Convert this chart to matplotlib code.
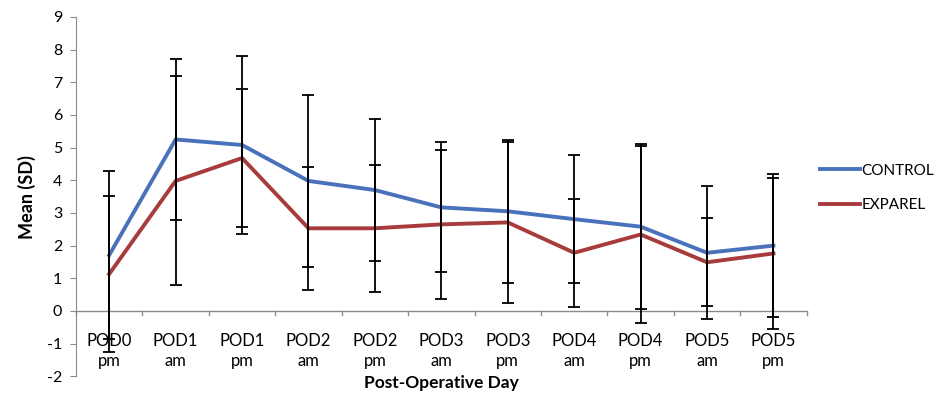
import matplotlib
matplotlib.use('Agg')
import matplotlib.pyplot as plt
import numpy as np

plt.rcParams['font.family'] = ['Lato', 'DejaVu Sans']
plt.rcParams['axes.unicode_minus'] = False

# 数据：术后各时间点均值及标准差
categories = ['POD0\npm', 'POD1\nam', 'POD1\npm', 'POD2\nam', 'POD2\npm', 'POD3\nam',
              'POD3\npm', 'POD4\nam', 'POD4\npm', 'POD5\nam', 'POD5\npm']
control_mean = [1.71, 5.25, 5.08, 3.98, 3.70, 3.17, 3.05, 2.81, 2.58, 1.78, 2.00]
control_sd = [2.58, 2.47, 2.71, 2.64, 2.17, 1.99, 2.18, 1.95, 2.52, 2.04, 2.18]
exparel_mean = [1.13, 3.98, 4.68, 2.53, 2.53, 2.65, 2.71, 1.78, 2.34, 1.49, 1.76]
exparel_sd = [2.38, 3.20, 2.12, 1.88, 1.94, 2.28, 2.46, 1.65, 2.72, 1.34, 2.32]

blue = '#4A72BC'
red = '#A83B3B'
gray = '#8C8C8C'

fig = plt.figure(figsize=(9.38, 3.94), dpi=100)
ax = fig.add_axes([0.081, 0.045, 0.779, 0.912])

x = np.arange(len(categories))
ax.plot(x, control_mean, color=blue, lw=2.8, label='CONTROL', zorder=2)
ax.plot(x, exparel_mean, color=red, lw=2.8, label='EXPAREL', zorder=2)
ax.errorbar(x, control_mean, yerr=control_sd, fmt='none', ecolor='black',
            elinewidth=1.3, capsize=4, capthick=1.3, zorder=3)
ax.errorbar(x, exparel_mean, yerr=exparel_sd, fmt='none', ecolor='black',
            elinewidth=1.3, capsize=4, capthick=1.3, zorder=3)

ax.set_xlim(-0.5, len(categories) - 0.5)
ax.set_ylim(-2, 9)
ax.set_yticks(range(-2, 10))
ax.tick_params(axis='y', direction='out', length=4, color=gray, labelsize=11.5, pad=6)

# x轴位于0处，刻度在类别之间
for s in ['top', 'right', 'bottom']:
    ax.spines[s].set_visible(False)
ax.spines['left'].set_color(gray)
ax.axhline(0, color=gray, lw=1, zorder=1)
ax.set_xticks([])
for b in np.arange(-0.5, len(categories), 1.0):
    ax.plot([b, b], [0, -0.12], color=gray, lw=1, clip_on=False, zorder=1)
for xi, lab in zip(x, categories):
    ax.text(xi, -0.68, lab, ha='center', va='top', fontsize=12, linespacing=1.3, zorder=4)

ax.set_ylabel('Mean (SD)', fontsize=13, fontweight='bold', labelpad=8)
ax.text(0.5, -0.02, 'Post-Operative Day', transform=ax.transAxes, ha='center', va='center',
        fontsize=12.5, fontweight='bold')

ax.legend(loc='upper left', bbox_to_anchor=(1.0, 0.63), frameon=False, fontsize=11,
          handlelength=2.6, handletextpad=0.1, labelspacing=1.35)

plt.savefig('out.png', dpi=100)
plt.close()
